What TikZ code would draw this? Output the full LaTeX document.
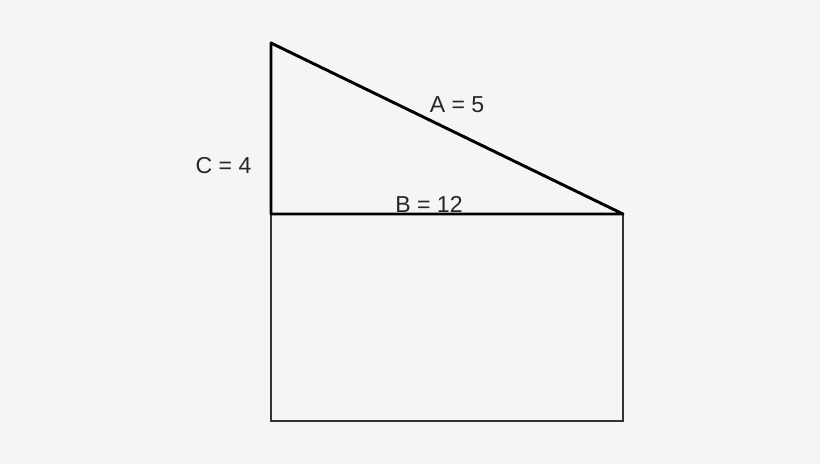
\documentclass[tikz,border=0pt]{standalone}
\usepackage{fontspec}
\setmainfont{Liberation Sans}
\definecolor{bg}{HTML}{F5F5F5}
\begin{document}
\begin{tikzpicture}[x=0.75pt,y=-0.75pt,
  lbl/.style={font=\fontsize{17.3pt}{20pt}\selectfont, inner sep=0pt, text=black!85},
  tri/.style={line width=2.2pt, black, line join=round},
  box/.style={line width=1.6pt, black!80}]
\fill[bg] (0,0) rectangle (820,464);
\useasboundingbox (0,0) rectangle (820,464);
\coordinate (top) at (271,43);
\coordinate (bl) at (271,214);
\coordinate (br) at (623,214);
\coordinate (rbl) at (271,421);
\coordinate (rbr) at (623,421);
\draw[box] (bl) -- (rbl) -- (rbr) -- (br);
\draw[tri] (top) -- (bl) -- (br) -- cycle;
\node[lbl] (c) at (223.5,166) {C = 4};
\node[lbl] (a) at (457,104.5) {A = 5};
\node[lbl] (b) at (429,204.5) {B = 12};
\end{tikzpicture}
\end{document}
